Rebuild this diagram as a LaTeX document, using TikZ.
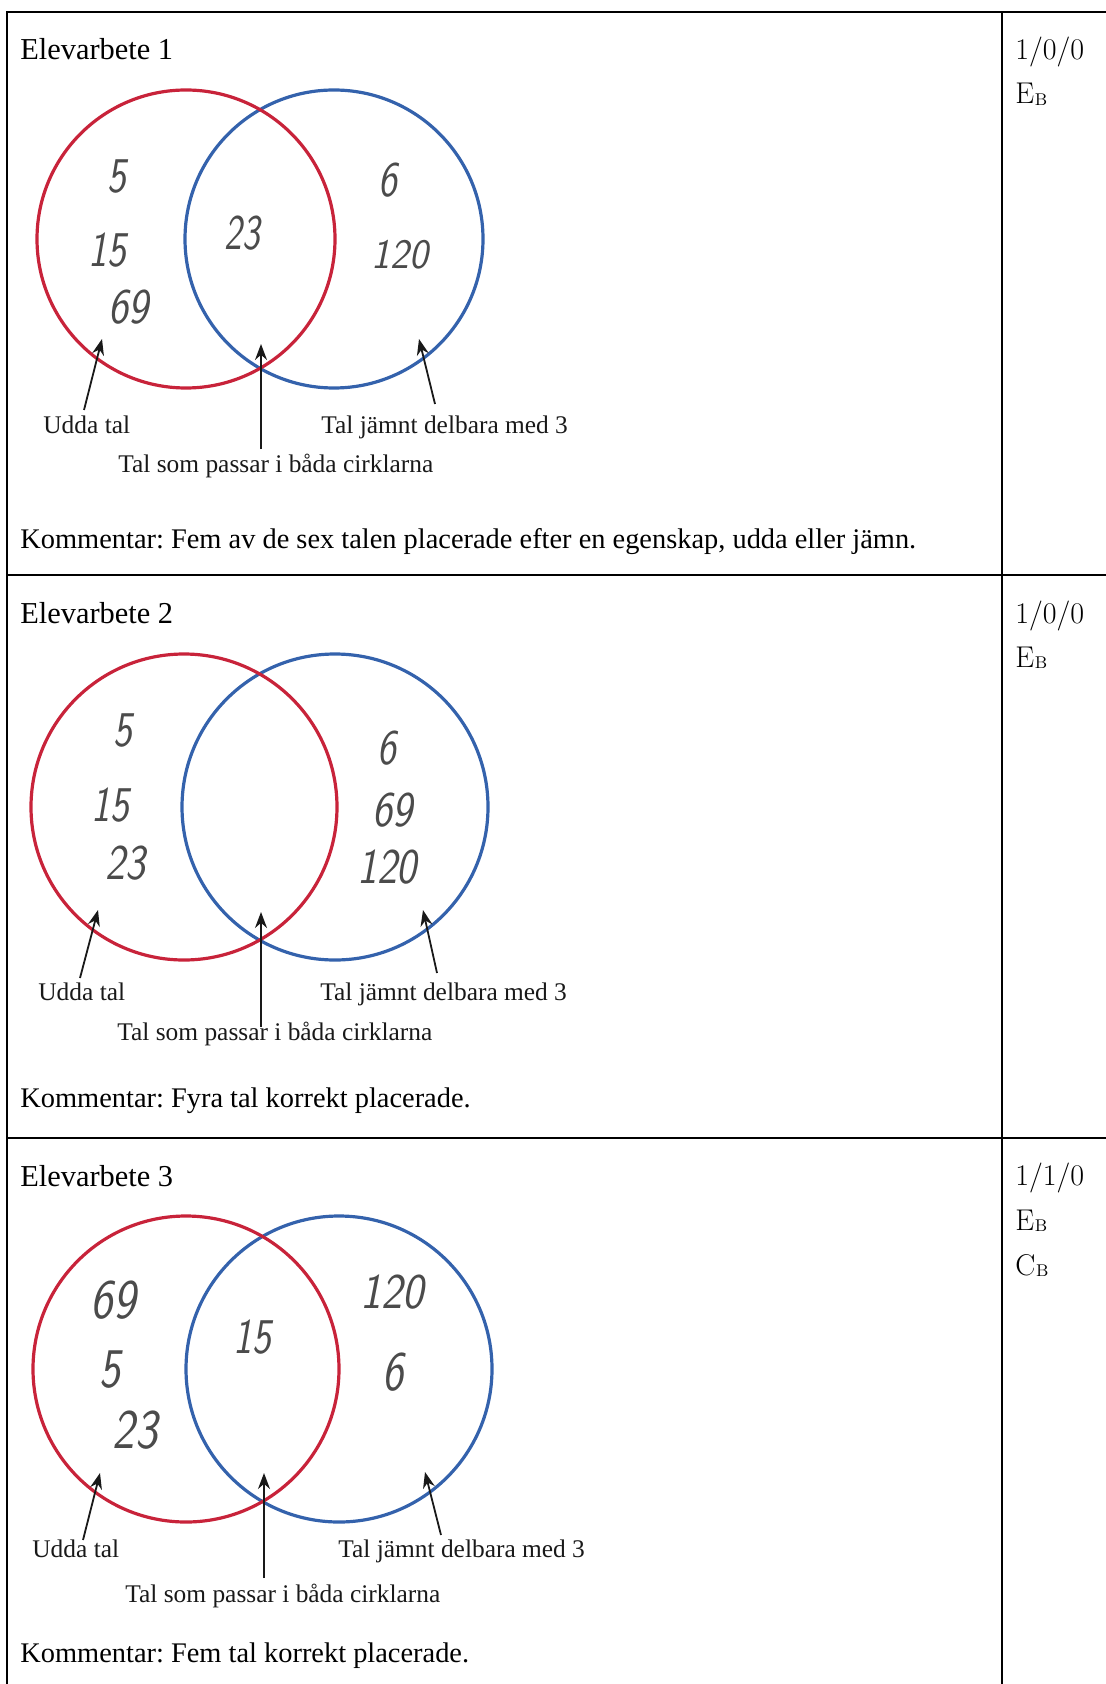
\documentclass[tikz,border=0pt]{standalone}
\usepackage{fontspec}
\newfontfamily\tms{Liberation Serif}
\usetikzlibrary{arrows.meta}
\definecolor{vred}{RGB}{200,35,58}
\definecolor{vblue}{RGB}{52,98,172}
\definecolor{ink}{RGB}{75,75,75}
\newcommand\lowB{\kern0.3pt\raisebox{-0.6pt}{\fontsize{8.5}{8.5}\selectfont B}}
\frenchspacing
\begin{document}
\begin{tikzpicture}[x=0.5pt,y=-0.5pt,
  rule/.style={line width=1pt},
  redc/.style={draw=vred,line width=1.6pt},
  bluec/.style={draw=vblue,line width=1.6pt},
  ttl/.style={anchor=base west,inner sep=0pt,font=\tms\fontsize{15.2}{18}\selectfont},
  kom/.style={anchor=base west,inner sep=0pt,font=\tms\fontsize{14.2}{17}\selectfont},
  lbl/.style={anchor=base west,inner sep=0pt,text=black!90,font=\tms\fontsize{12.7}{15}\selectfont},
  num/.style={inner sep=0pt,text=ink,font=\sffamily\slshape\fontsize{25}{25}\selectfont},
  score/.style={anchor=base west,inner sep=0pt,font=\fontsize{15}{18}\selectfont},
  ptr/.style={line width=0.9pt,black!90,-{Stealth[length=8pt,width=6pt]}}
]
\useasboundingbox (0,0) rectangle (1106,1684);
% table rules
\draw[rule] (7,1684) -- (7,12.5) -- (1106,12.5);
\draw[rule] (7,575) -- (1106,575);
\draw[rule] (7,1138) -- (1106,1138);
\draw[rule] (1002,12.5) -- (1002,1684);

% ---------------- Row 1 ----------------
\node[ttl] (t1) at (20,60) {Elevarbete 1};
\node[score] (s1) at (1015,60) {1/0/0};
\node[score] (e1) at (1015,104) {E\lowB};
\draw[bluec] (334,239) circle[radius=149];
\draw[redc] (186,239) circle[radius=149];
\node[num] (n1a) at (117,177) {\scalebox{0.8}[1]{5}};
\node[num] (n1b) at (107,250) {\scalebox{0.8}[1]{15}};
\node[num] (n1c) at (128,307) {\scalebox{0.85}[1]{69}};
\node[num] (n1d) at (242,233) {\scalebox{0.75}[1]{23}};
\node[num] (n1e) at (388,180) {\scalebox{0.8}[1]{6}};
\node[num,font=\sffamily\slshape\fontsize{21}{21}\selectfont] (n1f) at (400,255) {\scalebox{0.95}[1]{120}};
\node[lbl] (u1) at (43,434) {Udda tal};
\node[lbl] (j1) at (321,434) {Tal jämnt delbara med 3};
\node[lbl] (b1) at (118,473) {Tal som passar i båda cirklarna};
\coordinate (u1s) at (84,410);  \coordinate (u1t) at (102,339);
\coordinate (b1s) at (261,449); \coordinate (b1t) at (261,344);
\coordinate (j1s) at (435,404); \coordinate (j1t) at (419,339);
\draw[ptr] (u1s) -- (u1t);
\draw[ptr] (b1s) -- (b1t);
\draw[ptr] (j1s) -- (j1t);
\node[kom] (k1) at (20,548) {Kommentar: Fem av de sex talen placerade efter en egenskap, udda eller jämn.};

% ---------------- Row 2 ----------------
\node[ttl] (t2) at (20,623) {Elevarbete 2};
\node[score] (s2) at (1015,623) {1/0/0};
\node[score] (e2) at (1015,667) {E\lowB};
\draw[bluec] (335,807) circle[radius=153];
\draw[redc] (184,807) circle[radius=153];
\node[num] (n2a) at (123,730) {\scalebox{0.8}[1]{5}};
\node[num] (n2b) at (110,805) {\scalebox{0.8}[1]{15}};
\node[num] (n2c) at (125,863) {\scalebox{0.85}[1]{23}};
\node[num] (n2d) at (387,748) {\scalebox{0.8}[1]{6}};
\node[num] (n2e) at (392,810) {\scalebox{0.85}[1]{69}};
\node[num] (n2f) at (387,867) {\scalebox{0.85}[1]{120}};
\node[lbl] (u2) at (38,1000) {Udda tal};
\node[lbl] (j2) at (320,1000) {Tal jämnt delbara med 3};
\node[lbl] (b2) at (117,1040) {Tal som passar i båda cirklarna};
\coordinate (u2s) at (80,978);   \coordinate (u2t) at (98,910);
\coordinate (b2s) at (261,1027); \coordinate (b2t) at (261,912);
\coordinate (j2s) at (437,973);  \coordinate (j2t) at (423,910);
\draw[ptr] (u2s) -- (u2t);
\draw[ptr] (b2s) -- (b2t);
\draw[ptr] (j2s) -- (j2t);
\node[kom] (k2) at (20,1107) {Kommentar: Fyra tal korrekt placerade.};

% ---------------- Row 3 ----------------
\node[ttl] (t3) at (20,1186) {Elevarbete 3};
\node[score] (s3) at (1015,1185) {1/1/0};
\node[score] (e3) at (1015,1230) {E\lowB};
\node[score] (c3) at (1015,1275) {C\lowB};
\draw[bluec] (339,1369) circle[radius=153];
\draw[redc] (186,1369) circle[radius=153];
\node[num,font=\sffamily\slshape\fontsize{28}{28}\selectfont] (n3a) at (113,1300) {\scalebox{0.85}[1]{69}};
\node[num,font=\sffamily\slshape\fontsize{28}{28}\selectfont] (n3b) at (110,1370) {\scalebox{0.8}[1]{5}};
\node[num,font=\sffamily\slshape\fontsize{28}{28}\selectfont] (n3c) at (135,1430) {\scalebox{0.85}[1]{23}};
\node[num] (n3d) at (252,1337) {\scalebox{0.8}[1]{15}};
\node[num] (n3e) at (392,1292) {\scalebox{0.9}[1]{120}};
\node[num,font=\sffamily\slshape\fontsize{28}{28}\selectfont] (n3f) at (393,1372) {\scalebox{0.8}[1]{6}};
\node[lbl] (u3) at (32,1557) {Udda tal};
\node[lbl] (j3) at (338,1557) {Tal jämnt delbara med 3};
\node[lbl] (b3) at (125,1602) {Tal som passar i båda cirklarna};
\coordinate (u3s) at (83,1540);  \coordinate (u3t) at (100,1473);
\coordinate (b3s) at (264,1578); \coordinate (b3t) at (264,1473);
\coordinate (j3s) at (441,1535); \coordinate (j3t) at (425,1472);
\draw[ptr] (u3s) -- (u3t);
\draw[ptr] (b3s) -- (b3t);
\draw[ptr] (j3s) -- (j3t);
\node[kom] (k3) at (20,1662) {Kommentar: Fem tal korrekt placerade.};
\end{tikzpicture}
\end{document}
